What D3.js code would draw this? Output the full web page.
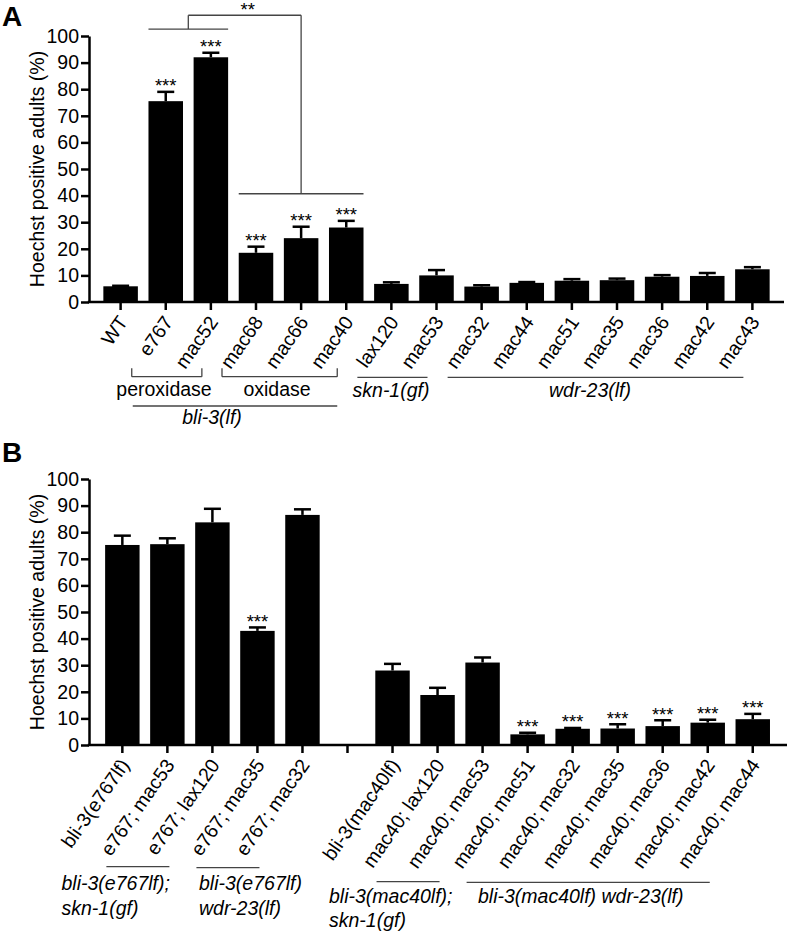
<!DOCTYPE html>
<html><head><meta charset="utf-8">
<script src="https://cdn.jsdelivr.net/npm/d3@7"></script>
<style>
body{margin:0;background:#fff}
svg text{font-family:"Liberation Sans",Arial,Helvetica,sans-serif;fill:#000}
</style>
</head><body>
<svg id="chart" width="789" height="933"></svg>
<script>
// ---------- DATA ----------
const categoriesA = ["WT","e767","mac52","mac68","mac66","mac40","lax120","mac53","mac32","mac44","mac51","mac35","mac36","mac42","mac43"];
const valuesA = [5.9,75.5,92.0,18.5,24.0,28.0,6.8,10.0,5.8,7.2,8.0,8.2,9.5,9.8,12.3];
const errorsA = [0.2,3.5,1.7,2.3,4.3,2.5,0.6,2.0,0.5,0.3,0.6,0.6,0.6,1.1,0.8];
const starsA  = ["","***","***","***","***","***","","","","","","","","",""];

const categoriesB = ["bli-3(e767lf)","e767; mac53","e767; lax120","e767; mac35","e767; mac32","",
  "bli-3(mac40lf)","mac40; lax120","mac40; mac53","mac40; mac51","mac40; mac32","mac40; mac35","mac40; mac36","mac40; mac42","mac40; mac44"];
const valuesB = [75.2,75.5,83.7,42.9,86.5,null,28.0,18.8,31.0,4.0,6.1,6.2,7.1,8.4,9.7];
const errorsB = [3.5,2.2,5.1,1.3,2.1,null,2.5,2.7,1.9,0.6,0.3,1.6,2.2,1.1,2.0];
const starsB  = ["","","","***","","","","","","***","***","***","***","***","***"];

const yTicks = [0,10,20,30,40,50,60,70,80,90,100];
const yLabel = "Hoechst positive adults (%)";

// ---------- LAYOUT ----------
const FS = 19.5;
const SW = 2.5;
const svg = d3.select("#chart");

function drawPanel(o) {
  const g = svg.append("g");
  const idx = d3.range(o.cats.length);
  const x = d3.scaleBand().domain(idx).range(o.xRange).paddingInner(0.235).paddingOuter(0.318);
  const y = d3.scaleLinear().domain([0,100]).range([o.y0, o.y1]);
  const bw = x.bandwidth();
  const cx = i => x(i) + bw/2;

  // bars
  g.selectAll("rect.bar").data(idx.filter(i => o.values[i] != null)).enter().append("rect")
    .attr("x", i => x(i)).attr("width", bw)
    .attr("y", i => y(o.values[i])).attr("height", i => y(0) - y(o.values[i]))
    .attr("fill", "#000");

  // error bars (upper)
  const eb = idx.filter(i => o.values[i] != null);
  g.selectAll("line.err").data(eb).enter().append("line")
    .attr("x1", cx).attr("x2", cx)
    .attr("y1", i => y(o.values[i])).attr("y2", i => y(o.values[i] + o.errors[i]))
    .attr("stroke", "#000").attr("stroke-width", SW);
  g.selectAll("line.cap").data(eb).enter().append("line")
    .attr("x1", i => cx(i) - 8.5).attr("x2", i => cx(i) + 8.5)
    .attr("y1", i => y(o.values[i] + o.errors[i])).attr("y2", i => y(o.values[i] + o.errors[i]))
    .attr("stroke", "#000").attr("stroke-width", SW);

  // stars
  g.selectAll("text.star").data(idx.filter(i => o.stars[i])).enter().append("text")
    .attr("x", cx).attr("y", i => y(o.values[i] + o.errors[i]) + 0.5)
    .attr("text-anchor", "middle").attr("font-size", 18.5)
    .text(i => o.stars[i]);

  // y axis
  const ya = g.append("g").attr("transform", `translate(${o.axisX},0)`)
    .call(d3.axisLeft(y).tickValues(yTicks).tickSize(8).tickSizeOuter(0).tickPadding(2));
  ya.selectAll("path,line").attr("stroke", "#000").attr("stroke-width", SW);
  ya.selectAll("text").attr("font-size", FS).attr("font-family", '"Liberation Sans",Arial,sans-serif').attr("fill","#000");

  // x axis ticks
  const xa = g.append("g").attr("transform", `translate(0,${o.y0})`)
    .call(d3.axisBottom(x).tickSize(8).tickFormat(""));
  xa.select(".domain").remove();
  xa.selectAll("line").attr("stroke", "#000").attr("stroke-width", SW);
  g.append("line").attr("x1", o.axisX - 1.2).attr("x2", o.axisEnd)
    .attr("y1", y(0)).attr("y2", y(0)).attr("stroke", "#000").attr("stroke-width", SW);

  // x labels
  g.selectAll("text.xl").data(idx.filter(i => o.cats[i])).enter().append("text")
    .attr("transform", i => `translate(${cx(i) + 8},${o.y0 + 20}) rotate(-55)`)
    .attr("text-anchor", "end").attr("font-size", FS)
    .text(i => o.cats[i]);

  // y label
  g.append("text").attr("transform", `translate(44,${(o.y0 + o.y1)/2}) rotate(-90)`)
    .attr("text-anchor", "middle").attr("font-size", FS).text(yLabel);

  // panel letter
  g.append("text").attr("x", 2).attr("y", o.letterY).attr("font-size", 28).attr("font-weight", "bold").text(o.letter);

  return {x, y, cx, bw, g};
}

// ---------- PANEL A ----------
const A = drawPanel({cats: categoriesA, values: valuesA, errors: errorsA, stars: starsA,
  xRange: [89, 784], y0: 302, y1: 36, axisX: 89, axisEnd: 784, letter: "A", letterY: 26});

const gray = "#444";
function hline(g, x1, x2, yy) {
  g.append("line").attr("x1", x1).attr("x2", x2).attr("y1", yy).attr("y2", yy)
    .attr("stroke", gray).attr("stroke-width", 1.3);
}
function vline(g, xx, y1, y2) {
  g.append("line").attr("x1", xx).attr("x2", xx).attr("y1", y1).attr("y2", y2)
    .attr("stroke", gray).attr("stroke-width", 1.3);
}
{
  const {g, x, y, cx, bw} = A;
  const iA = c => categoriesA.indexOf(c);
  // comparison bracket
  const l1 = x(iA("e767")), r1 = x(iA("mac52")) + bw;
  const l2 = x(iA("mac68")), r2 = x(iA("mac40")) + bw;
  const m1 = (l1 + r1)/2, m2 = cx(iA("mac66"));
  hline(g, l1, r1, y(102.6));
  hline(g, l2, r2, y(40.7));
  vline(g, m1, y(102.6), y(107.8));
  vline(g, m2, y(40.7), y(107.8));
  hline(g, m1, m2, y(107.8));
  g.append("text").attr("x", (m1 + m2)/2 + 3).attr("y", y(107.8) + 0.5)
    .attr("text-anchor", "middle").attr("font-size", 18.5).text("**");

  // group brackets under labels
  const L = -34, R = -9;
  const brk = (a, b, yy, ticks) => {
    const x1 = cx(iA(a)) + L, x2 = cx(iA(b)) + R;
    hline(g, x1, x2, yy);
    if (ticks) { vline(g, x1, yy - 8.5, yy); vline(g, x2, yy - 8.5, yy); }
    return [x1, x2];
  };
  brk("e767", "mac52", 376.7, true);
  brk("mac68", "mac40", 376.7, true);
  brk("lax120", "mac53", 377.3, false);
  brk("mac32", "mac43", 377.3, false);
  hline(g, cx(iA("e767")) + L + 1, cx(iA("mac40")) + R, 406);

  const lab = (t, xx, yy, it) => g.append("text").attr("x", xx).attr("y", yy)
    .attr("text-anchor", "middle").attr("font-size", FS)
    .attr("font-style", it ? "italic" : "normal").text(t);
  lab("peroxidase", 164, 396, false);
  lab("oxidase", 277, 396, false);
  lab("skn-1(gf)", 391, 396.5, true);
  lab("wdr-23(lf)", 590, 396.5, true);
  lab("bli-3(lf)", 212, 424, true);
}

// ---------- PANEL B ----------
const B = drawPanel({cats: categoriesB, values: valuesB, errors: errorsB, stars: starsB,
  xRange: [90.8, 784.3], y0: 745, y1: 479, axisX: 89, axisEnd: 787, letter: "B", letterY: 462});
{
  const {g, cx} = B;
  const iB = c => categoriesB.indexOf(c);
  const L = -61, R = -43;
  const brk = (a, b, yy) => hline(g, cx(iB(a)) + L, cx(iB(b)) + R, yy);
  brk("e767; mac53", "e767; lax120", 866.7);
  brk("e767; mac35", "e767; mac32", 867.7);
  brk("mac40; lax120", "mac40; mac53", 881.7);
  brk("mac40; mac51", "mac40; mac44", 882.3);
  const lab = (t, xx, yy) => g.append("text").attr("x", xx).attr("y", yy)
    .attr("font-size", FS).attr("font-style", "italic").text(t);
  lab("bli-3(e767lf);", 61.5, 890);
  lab("skn-1(gf)", 61.5, 915);
  lab("bli-3(e767lf)", 199, 890);
  lab("wdr-23(lf)", 199, 915);
  lab("bli-3(mac40lf);", 329, 903);
  lab("skn-1(gf)", 329, 927);
  lab("bli-3(mac40lf) wdr-23(lf)", 478, 903);
}
</script>
</body></html>
